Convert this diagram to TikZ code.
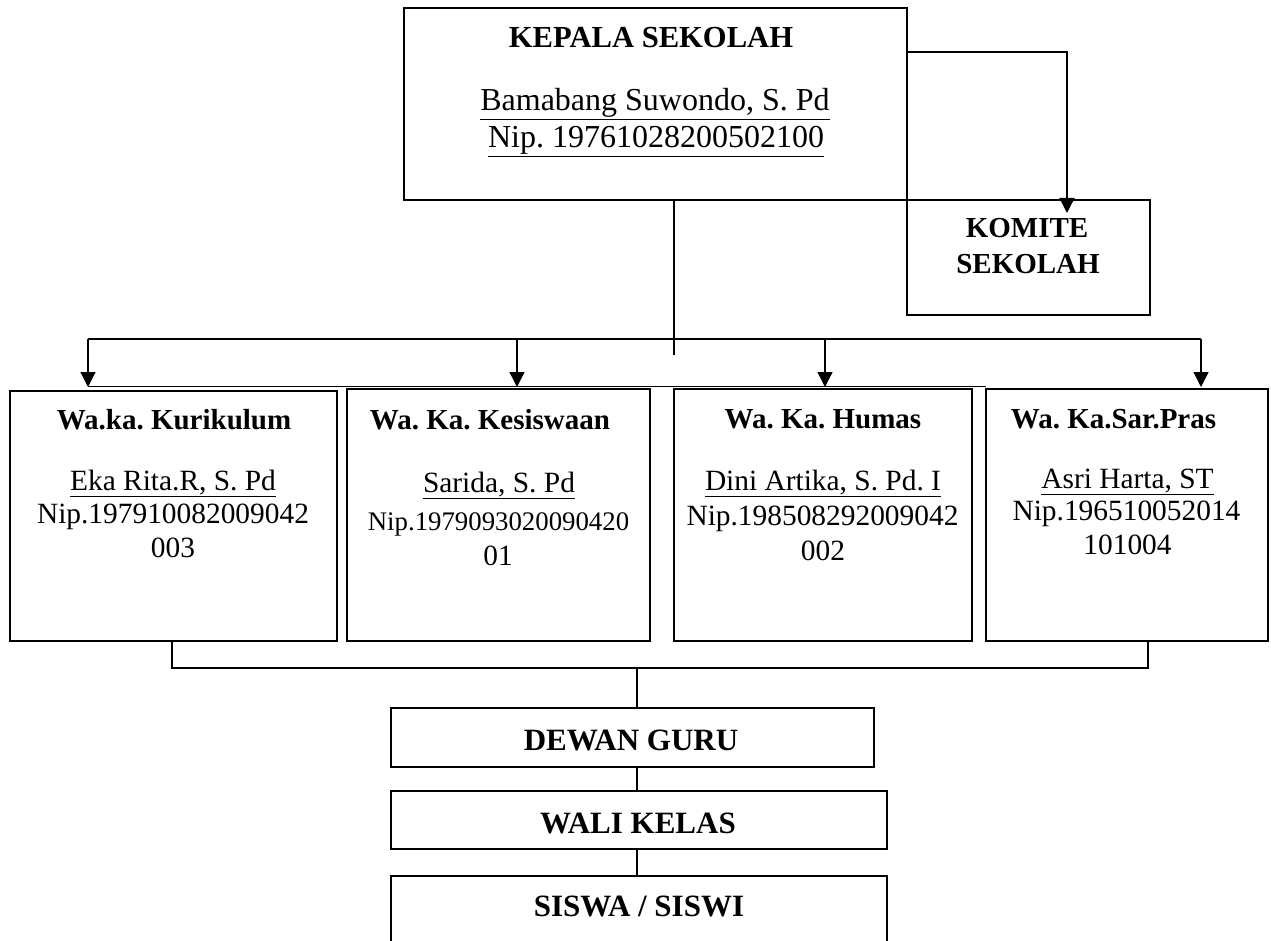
\documentclass[tikz,border=0pt]{standalone}
\usepackage{fontspec}
\setmainfont{Liberation Serif}
\usetikzlibrary{arrows.meta}
\frenchspacing
\begin{document}
\begin{tikzpicture}[x=1pt,y=-1pt,
  box/.style={draw, line width=1.9pt, inner sep=0pt, outer sep=0pt},
  conn/.style={line width=1.3pt},
  arr/.style={line width=1.3pt, -{Triangle[length=15pt,width=15pt]}},
  txt/.style={anchor=base, inner sep=0pt},
  ttl/.style={txt, font=\frenchspacing\bfseries\fontsize{29}{29}\selectfont},
  big/.style={txt, font=\frenchspacing\bfseries\fontsize{31}{31}\selectfont},
  nm/.style={txt, font=\frenchspacing\fontsize{29.4}{29.4}\selectfont}
]
\fill[white] (0,0) rectangle (1271,941);
\useasboundingbox (0,0) rectangle (1271,941);

% boxes
\node[box, minimum width=503pt, minimum height=192pt] (kepala) at (655.5,104) {};
\node[box, minimum width=243pt, minimum height=115pt] (komite) at (1028.5,257.5) {};
\node[box, minimum width=327pt, minimum height=250pt] (b1) at (173.5,516) {};
\node[box, minimum width=303pt, minimum height=252pt] (b2) at (498.5,515) {};
\node[box, minimum width=298pt, minimum height=252pt] (b3) at (823,515) {};
\node[box, minimum width=282pt, minimum height=252pt] (b4) at (1127,515) {};
\node[box, minimum width=483pt, minimum height=59pt] (dewan) at (632.5,737.5) {};
\node[box, minimum width=496pt, minimum height=58pt] (wali) at (639,820) {};
\node[box, minimum width=496pt, minimum height=90pt] (siswa) at (639,921) {};

% texts
\node[txt, font=\frenchspacing\bfseries\fontsize{30.6}{30.6}\selectfont] (kT) at (651,48) {KEPALA SEKOLAH};
\node[txt, font=\frenchspacing\fontsize{32}{32}\selectfont] (kN) at (655,111) {\underline{Bamabang Suwondo, S. Pd}};
\node[txt, font=\frenchspacing\fontsize{32}{32}\selectfont] (kP) at (656,148) {\underline{Nip. 19761028200502100}};

\node[ttl] (mT1) at (1027,238) {KOMITE};
\node[ttl] (mT2) at (1028,273) {SEKOLAH};

\node[ttl] (t1) at (174,429) {Wa.ka. Kurikulum};
\node[nm] (n1) at (173,490) {\underline{Eka Rita.R, S. Pd}};
\node[nm] (p1) at (173,523) {Nip.197910082009042};
\node[nm] (q1) at (173,557) {003};

\node[ttl] (t2) at (490,429) {Wa. Ka. Kesiswaan};
\node[nm] (n2) at (499,492) {\underline{Sarida, S. Pd}};
\node[nm, font=\fontsize{26.8}{26.8}\selectfont] (p2) at (498.5,530) {Nip.1979093020090420};
\node[nm] (q2) at (498,565) {01};

\node[ttl] (t3) at (823,428) {Wa. Ka. Humas};
\node[nm] (n3) at (823,490) {\underline{Dini Artika, S. Pd. I}};
\node[nm] (p3) at (822.5,525) {Nip.198508292009042};
\node[nm] (q3) at (823,560) {002};

\node[ttl] (t4) at (1113.5,428) {Wa. Ka.Sar.Pras};
\node[nm] (n4) at (1127.5,488) {\underline{Asri Harta, ST}};
\node[nm] (p4) at (1126.5,520) {Nip.196510052014};
\node[nm] (q4) at (1127.5,554) {101004};

\node[big] (dT) at (631,750) {DEWAN GURU};
\node[big] (wT) at (638,833) {WALI KELAS};
\node[big] (sT) at (639,916) {SISWA / SISWI};

% connectors
\draw[arr] (kepala.east |- 0,52) -| ([xshift=38.5pt,yshift=-13pt]komite.north);

\coordinate (tick) at (674,355);
\coordinate (barL) at (88,339);
\coordinate (barR) at (1201,339);
\draw[conn] (kepala.south -| tick) -- (tick);
\draw[conn] (barL) -- (barR);
\draw[arr] (barL) -- ([xshift=-85.5pt,yshift=4pt]b1.north);
\draw[arr] (b2.north -| 517,0) ++(0,-50) -- ([xshift=18.5pt,yshift=2pt]b2.north);
\draw[arr] (b3.north -| 825,0) ++(0,-50) -- ([xshift=2pt,yshift=2pt]b3.north);
\draw[arr] (barR) -- ([xshift=74pt,yshift=2pt]b4.north);
\draw[line width=1pt] ([xshift=-85.5pt,yshift=4.5pt]b1.north) -- ([yshift=2.5pt]b4.north west);

\coordinate (botL) at (172,668);
\coordinate (botR) at (1148,668);
\coordinate (botC) at (637,668);
\draw[conn] (b1.south -| botL) -- (botL) -- (botR) -- (b4.south -| botR);
\draw[conn] (botC) -- (dewan.north -| botC);
\draw[conn] (dewan.south -| botC) -- (wali.north -| botC);
\draw[conn] (wali.south -| botC) -- (siswa.north -| botC);
\end{tikzpicture}
\end{document}
